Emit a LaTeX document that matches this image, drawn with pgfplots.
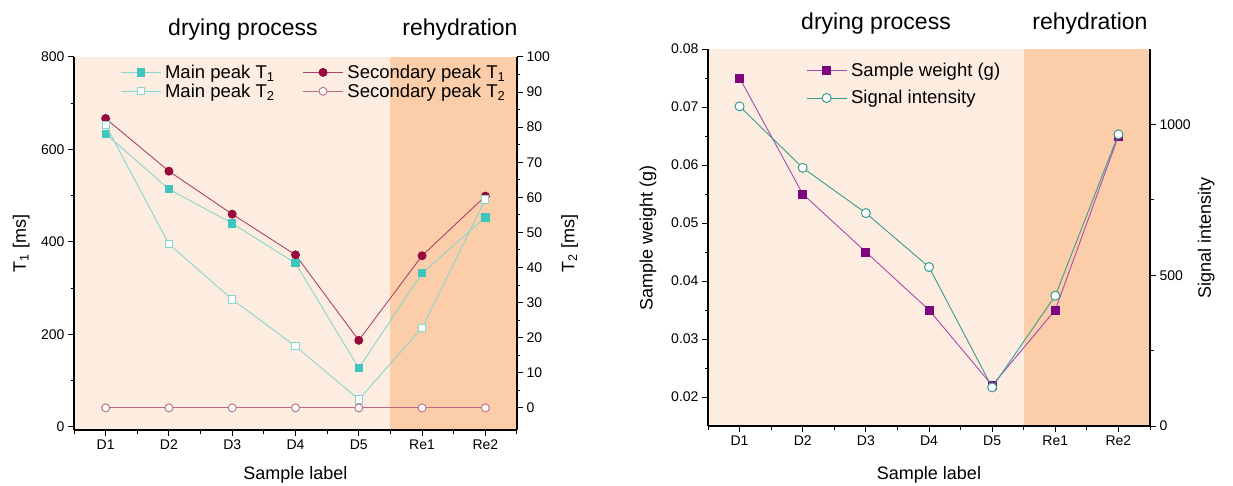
\documentclass[border=0pt]{standalone}
\usepackage{fontspec}
\setmainfont{Liberation Sans}
\usepackage{pgfplots}
\pgfplotsset{compat=1.18}

\definecolor{bglight}{HTML}{FDECE0}
\definecolor{bgdark}{HTML}{FCCDA9}
\definecolor{tealfill}{HTML}{3EC6BE}
\definecolor{tealline}{HTML}{86D6CF}
\definecolor{maroonmark}{HTML}{960A3E}
\definecolor{maroonline}{HTML}{A8456A}
\definecolor{pinkline}{HTML}{BC6A85}
\definecolor{purplemark}{HTML}{7E0580}
\definecolor{purpleline}{HTML}{A64CB0}
\definecolor{sigteal}{HTML}{3A9C91}

\newcommand{\tickfont}{\fontsize{14}{16}\selectfont}
\newcommand{\labfont}{\fontsize{18}{20}\selectfont}
\newcommand{\legfont}{\fontsize{18.5}{20}\selectfont}
\newcommand{\titfont}{\fontsize{23}{26}\selectfont}

\pgfplotsset{
  panel/.style={
    scale only axis, anchor=south west,
    xmin=-0.5, xmax=6.5,
    tick align=outside,
    major tick length=6pt, minor tick length=3.5pt,
    every tick/.style={black, line width=1pt},
    axis line style={line width=1.2pt, -},
    axis on top,
    tick label style={font=\tickfont},
    label style={font=\labfont},
    /pgf/number format/assume math mode=true,
    /pgf/number format/1000 sep={},
    legend image code/.code={\draw[mark repeat=2,mark phase=2,##1]
      plot coordinates {(0pt,0pt) (20pt,0pt) (40pt,0pt)};},
    legend style={draw=none, fill=none, font=\legfont, legend cell align=left},
  },
  xpanel/.style={
    axis x line*=bottom, axis y line*=left,
    xtick={0,...,6}, xticklabels={D1,D2,D3,D4,D5,Re1,Re2},
    minor xtick={-0.5,0.5,1.5,2.5,3.5,4.5,5.5,6.5},
  },
  ypanel/.style={
    axis y line*=right, axis x line=none, hide x axis,
  },
  mainone/.style={color=tealline, line width=0.9pt, mark=square*, mark size=3.6pt,
    mark options={fill=tealfill, draw=tealfill}},
  maintwo/.style={color=tealline, line width=0.9pt, mark=square*, mark size=3.6pt,
    mark options={fill=white, draw=tealline, line width=1pt}},
  secone/.style={color=maroonline, line width=0.9pt, mark=*, mark size=4pt,
    mark options={fill=maroonmark, draw=maroonmark}},
  sectwo/.style={color=pinkline, line width=0.9pt, mark=*, mark size=4pt,
    mark options={fill=white, draw=pinkline, line width=0.9pt}},
  weight/.style={color=purpleline, line width=0.9pt, mark=square*, mark size=4pt,
    mark options={fill=purplemark, draw=purplemark}},
  signal/.style={color=sigteal, line width=0.9pt, mark=*, mark size=4.5pt,
    mark options={fill=white, draw=sigteal, line width=1pt}},
}

\begin{document}
\begin{tikzpicture}
\useasboundingbox (0,0) rectangle (1233pt,485pt);

% ---------- left panel: T1 axis
\begin{axis}[panel, xpanel,
  at={(74pt,55pt)}, width=443pt, height=373pt,
  ymin=-7, ymax=800,
  ytick={0,200,400,600,800}, minor y tick num=1,
  xlabel={Sample label},
  ylabel={T\textsubscript{1} [ms]},
  xlabel style={at={(axis description cs:0.5,-0.12)}, anchor=center},
  ylabel style={at={(axis description cs:-0.119,0.5)}, anchor=center},
]
  \fill[bglight] (axis cs:-0.5,-7) rectangle (axis cs:4.5,800);
  \fill[bgdark] (axis cs:4.5,-7) rectangle (axis cs:6.5,800);
  \addplot[mainone] coordinates {
    (0,634) (1,514) (2,440) (3,354) (4,127) (5,332) (6,453)};
  \addplot[secone] coordinates {
    (0,667) (1,553) (2,460) (3,372) (4,187) (5,370) (6,499)};
\end{axis}

% ---------- left panel: T2 axis
\begin{axis}[panel, ypanel,
  at={(74pt,55pt)}, width=443pt, height=373pt,
  ymin=-6.3, ymax=100,
  ytick={0,10,...,100}, minor y tick num=1,
  ylabel={T\textsubscript{2} [ms]},
  ylabel style={at={(axis description cs:1.119,0.5)}, anchor=center},
  legend columns=2,
  legend style={at={(0.097,0.99)}, anchor=north west,
    /tikz/every even column/.append style={column sep=26pt},
    /tikz/every odd column/.append style={column sep=2pt}},
]
  \addlegendimage{mainone}
  \addlegendentry{Main peak T\textsubscript{1}}
  \addlegendimage{secone}
  \addlegendentry{Secondary peak T\textsubscript{1}}
  \addplot[maintwo] coordinates {
    (0,80.6) (1,46.7) (2,30.9) (3,17.6) (4,2.4) (5,22.8) (6,59.4)};
  \addlegendentry{Main peak T\textsubscript{2}}
  \addplot[sectwo] coordinates {
    (0,0) (1,0) (2,0) (3,0) (4,0) (5,0) (6,0)};
  \addlegendentry{Secondary peak T\textsubscript{2}}
\end{axis}

\node[font=\titfont] at (243pt,455pt) {drying process};
\node[font=\titfont] at (460pt,455pt) {rehydration};

% ---------- right panel: weight axis
\begin{axis}[panel, xpanel,
  at={(708pt,59pt)}, width=442pt, height=377pt,
  ymin=0.015, ymax=0.08,
  ytick={0.02,0.03,0.04,0.05,0.06,0.07,0.08}, minor y tick num=1,
  yticklabel style={/pgf/number format/.cd, fixed, fixed zerofill, precision=2},
  scaled y ticks=false,
  xlabel={Sample label},
  ylabel={Sample weight (g)},
  xlabel style={at={(axis description cs:0.5,-0.13)}, anchor=center},
  ylabel style={at={(axis description cs:-0.136,0.5)}, anchor=center},
  legend style={at={(0.215,0.975)}, anchor=north west,
    /tikz/every odd column/.append style={column sep=2pt},
    row sep=9pt},
]
  \fill[bglight] (axis cs:-0.5,0.015) rectangle (axis cs:4.5,0.08);
  \fill[bgdark] (axis cs:4.5,0.015) rectangle (axis cs:6.5,0.08);
  \addplot[weight] coordinates {
    (0,0.075) (1,0.055) (2,0.045) (3,0.035) (4,0.022) (5,0.035) (6,0.065)};
  \addlegendentry{Sample weight (g)}
  \addlegendimage{signal}
  \addlegendentry{Signal intensity}
\end{axis}

% ---------- right panel: intensity axis
\begin{axis}[panel, ypanel,
  at={(708pt,59pt)}, width=442pt, height=377pt,
  ymin=0, ymax=1250,
  ytick={0,500,1000}, minor ytick={250,750},
  ylabel={Signal intensity},
  ylabel style={at={(axis description cs:1.127,0.5)}, anchor=center},
]
  \addplot[signal] coordinates {
    (0,1060) (1,856) (2,706) (3,527) (4,128) (5,432) (6,967)};
\end{axis}

\node[font=\titfont] at (876pt,461pt) {drying process};
\node[font=\titfont] at (1090pt,461pt) {rehydration};
\end{tikzpicture}
\end{document}
